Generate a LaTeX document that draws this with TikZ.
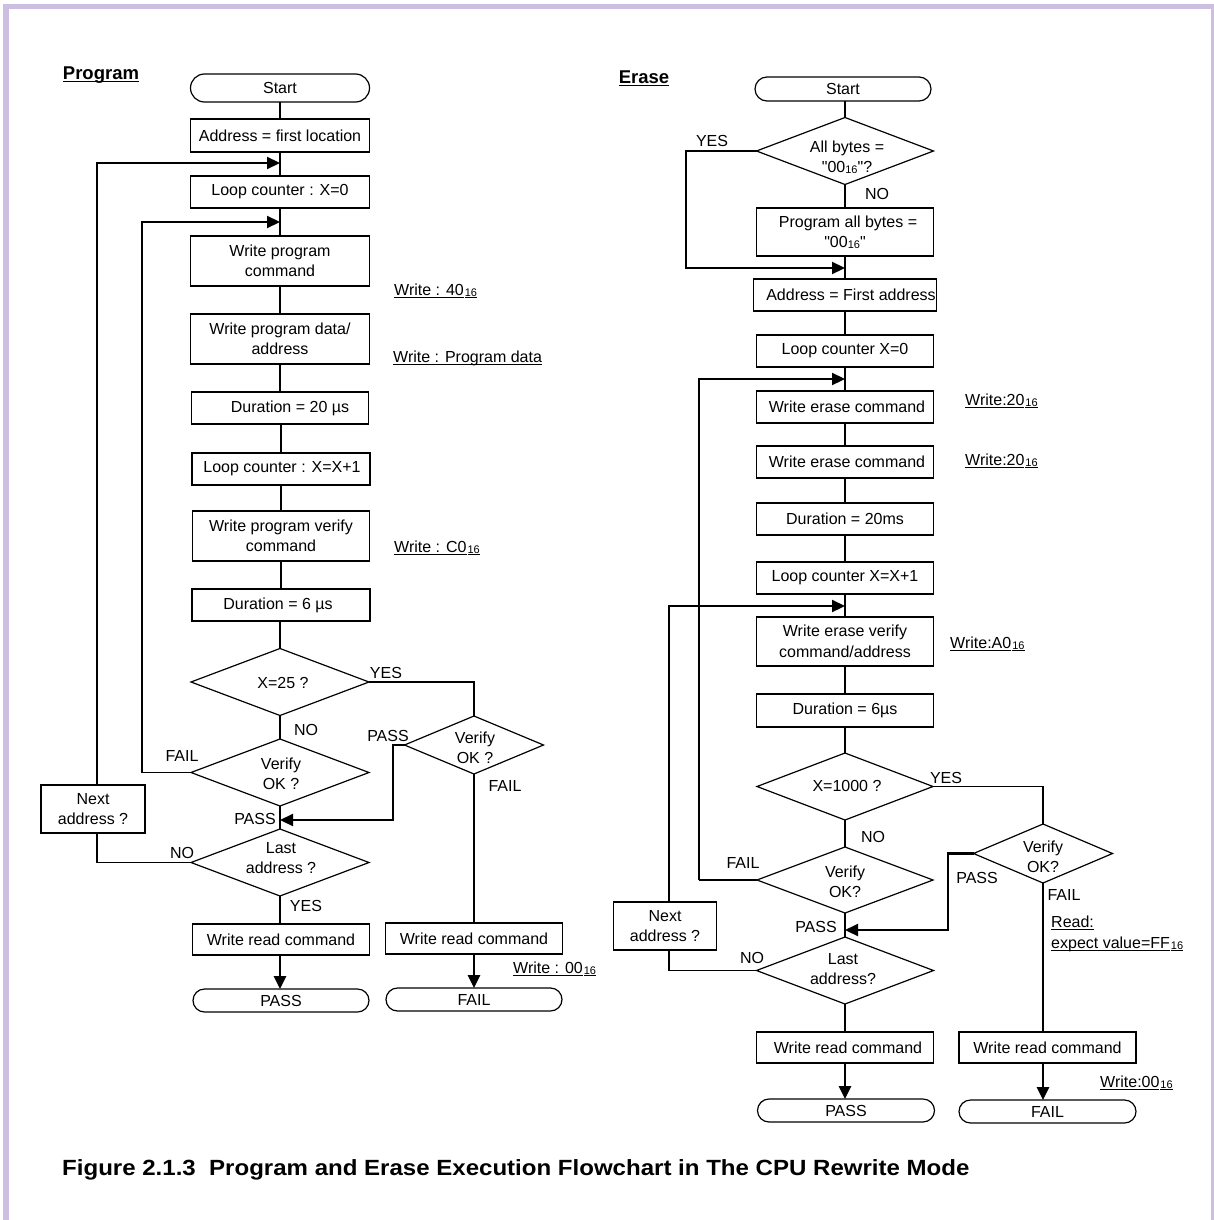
\documentclass[tikz,border=0pt]{standalone}
\usepackage{graphicx}
\usepackage{fontspec}
\setmainfont{Liberation Sans}[Ligatures=TeXOff]
\usetikzlibrary{shapes.geometric,shapes.misc,arrows.meta}

\definecolor{framecol}{RGB}{204,191,225}

% text sizes
\newcommand\boxfont{\fontsize{16}{20.5}\selectfont}
\newcommand\headfont{\bfseries\fontsize{18.5}{22}\selectfont}
\newcommand\capfont{\bfseries\fontsize{22}{26}\selectfont}
% small hexadecimal suffix
\newcommand\hexs{\raisebox{-0.6pt}{\fontsize{11}{11}\selectfont 16}}
% underline at a fixed depth below the baseline
\newsavebox\ulbox
\newcommand\ulx[1]{\sbox\ulbox{#1}\rlap{\raisebox{-2.3pt}{\rule{\wd\ulbox}{0.9pt}}}\usebox\ulbox}

\begin{document}
\begin{tikzpicture}[x=1pt,y=-1pt,
  box/.style={draw, line width=1.2pt, inner sep=1pt, outer sep=0pt, align=center, font=\boxfont},
  term/.style={draw, rounded rectangle, line width=1.2pt, inner sep=0pt, outer sep=0pt, font=\boxfont},
  dia/.style={draw, diamond, line width=1.2pt, inner sep=0pt, outer sep=0pt},
  dtxt/.style={align=center, font=\boxfont, inner sep=0pt},
  lbl/.style={font=\boxfont, inner sep=0pt, text height=11.5pt, text depth=0pt},
  note/.style={lbl, anchor=west},
  conn/.style={line width=1.2pt},
  loopln/.style={line width=2.2pt},
  tip/.style={-{Triangle[length=13pt,width=12pt]}},
  arr/.style={line width=2.6pt, tip},
]
\useasboundingbox (0,0) rectangle (1213,1220);
\fill[white] (0,0) rectangle (1213,1220);
% page frame
\draw[framecol, line width=5.4pt] (6,1230) -- (6,6.7) -- (1213.7,6.7) -- (1213.7,1230);

% ---------------- Program ----------------
\node[font=\headfont, inner sep=0pt] (hprog) at (101,75) {\ulx{Program}};

\node[term, minimum width=179pt, minimum height=28pt] (pstart) at (280,88) {Start};
\node[box, minimum width=179pt, minimum height=33pt] (paddr) at (280,135.5) {Address = first location};
\node[box, minimum width=179pt, minimum height=32pt] (plc0) at (280,192) {Loop counter : X=0};
\node[box, minimum width=179pt, minimum height=50pt] (pwpc) at (280,261) {Write program\\command};
\node[box, minimum width=179pt, minimum height=50pt] (pwpd) at (280,339) {Write program data/\\address};
\node[box, minimum width=177pt, minimum height=32pt] (pd20) at (280,408) {\hspace*{20pt}Duration = 20 µs};
\node[box, minimum width=178pt, minimum height=32pt] (plcx) at (281,469) {\hspace*{2pt}Loop counter : X=X+1};
\node[box, minimum width=177pt, minimum height=50pt] (pwpv) at (281,536) {Write program verify\\command};
\node[box, minimum width=178pt, minimum height=32pt] (pd6) at (281,605) {Duration = 6 µs\hspace*{6pt}};

\node[dia, minimum width=178pt, minimum height=67pt] (px25) at (280,682) {};
\node[dtxt] (px25t) at (283,683) {X=25 ?};
\node[dia, minimum width=178pt, minimum height=67pt] (pv1) at (280,772.5) {};
\node[dtxt] (pv1t) at (281,774) {Verify\\OK ?};
\node[dia, minimum width=139pt, minimum height=58pt] (pv2) at (474,745) {};
\node[dtxt] (pv2t) at (475,748) {Verify\\OK ?};
\node[dia, minimum width=178pt, minimum height=67pt] (plast) at (280,862.5) {};
\node[dtxt] (plastt) at (281,858) {Last\\address ?};

\node[box, minimum width=104pt, minimum height=48pt] (pnext) at (93,809) {Next\\address ?};
\node[box, minimum width=177pt, minimum height=31pt] (pwrL) at (281,939.5) {Write read command};
\node[term, minimum width=176pt, minimum height=23pt] (ppass) at (281,1000.5) {PASS};
\node[box, minimum width=177pt, minimum height=31pt] (pwrR) at (474,938.5) {Write read command};
\node[term, minimum width=176pt, minimum height=23pt] (pfail) at (474,999.5) {FAIL};

% joins and corners of the program loops
\coordinate (pj1) at (280,163);
\coordinate (pj2) at (280,222);
\coordinate (pj3) at (280,820);
\coordinate (pnx) at (97,0);
\coordinate (pfc) at (142,772.5);
\coordinate (ppc) at (393,820);

\draw[conn] (pstart) -- (paddr);
\draw[conn] (paddr) -- (plc0);
\draw[conn] (plc0) -- (pwpc);
\draw[conn] (pwpc) -- (pwpd);
\draw[conn] (pwpd) -- (pd20);
\draw[conn] (pd20.south -| pd6) -- (plcx.north -| pd6);
\draw[conn] (plcx) -- (pwpv);
\draw[conn] (pwpv) -- (pd6);
\draw[conn] (pd6.south -| px25) -- (px25.north);
\draw[conn] (px25) -- (pv1);
\draw[conn] (pv1) -- (plast);
\draw[conn] (plast.south) -- (plast.south |- pwrL.north);
\draw[arr] (pwrL.south -| plast) -- (ppass.north -| plast);
\draw[conn] (px25.east) -| (pv2.north);
\draw[conn] (pv2) -- (pwrR);
\draw[arr] (pwrR) -- (pfail);
\draw[conn] (pv1.west) -- (pfc);
\draw[loopln, tip] (pfc) |- (pj2);
\draw[loopln, tip] (pnext.north -| pnx) |- (pj1);
\draw[conn] (pnext.south -| pnx) |- (plast.west);
\draw[loopln, tip] (pv2.west) -| (ppc) -- (pj3);

\node[lbl] (pyes1) at (386,673) {YES};
\node[lbl] (pno1) at (306,730) {NO};
\node[lbl] (pfail1) at (182,756) {FAIL};
\node[lbl] (ppass1) at (388,736) {PASS};
\node[lbl] (pfail2) at (505,786) {FAIL};
\node[lbl] (ppass2) at (255,819) {PASS};
\node[lbl] (pno2) at (182,853) {NO};
\node[lbl] (pyes2) at (306,906) {YES};

\node[note] (pn1) at (394,290) {\ulx{Write : 40}\hspace{1pt}\ulx{\hexs}};
\node[note] (pn2) at (393,357) {\ulx{Write : Program data}};
\node[note] (pn3) at (394,547) {\ulx{Write : C0}\hspace{1pt}\ulx{\hexs}};
\node[note] (pn4) at (513,968) {\ulx{Write : 00}\hspace{1pt}\ulx{\hexs}};

% ---------------- Erase ----------------
\node[font=\headfont, inner sep=0pt] (herase) at (644,78) {\ulx{Erase}};

\node[term, minimum width=176pt, minimum height=24pt] (estart) at (843,89) {Start};
\node[dia, minimum width=177pt, minimum height=67pt] (eall) at (845,151) {};
\node[dtxt] (eallt) at (847,157) {All bytes =\\"00\hexs"?};
\node[box, minimum width=177pt, minimum height=48pt] (eprog) at (845,232) {\hspace*{6pt}Program all bytes =\\"00\hexs"};
\node[box, minimum width=177pt, minimum height=32pt] (eaddr) at (845,295) {\hspace*{12pt}Address = First address};
\node[box, minimum width=177pt, minimum height=32pt] (elc0) at (845,351) {Loop counter X=0};
\node[box, minimum width=177pt, minimum height=32pt] (ewec1) at (845,407) {\hspace*{4pt}Write erase command};
\node[box, minimum width=177pt, minimum height=32pt] (ewec2) at (845,462) {\hspace*{4pt}Write erase command};
\node[box, minimum width=177pt, minimum height=32pt] (ed20) at (845,519) {Duration = 20ms};
\node[box, minimum width=177pt, minimum height=32pt] (elcx) at (845,578) {Loop counter X=X+1};
\node[box, minimum width=177pt, minimum height=49pt] (ewev) at (845,641.5) {Write erase verify\\command/address};
\node[box, minimum width=177pt, minimum height=33pt] (ed6) at (845,710.5) {Duration = 6µs};

\node[dia, minimum width=176pt, minimum height=67pt] (ex1000) at (845,786.5) {};
\node[dtxt] (ex1000t) at (847,786) {X=1000 ?};
\node[dia, minimum width=176pt, minimum height=66pt] (ev1) at (845,880) {};
\node[dtxt] (ev1t) at (845,882) {Verify\\OK?};
\node[dia, minimum width=139pt, minimum height=59pt] (ev2) at (1043,853.5) {};
\node[dtxt] (ev2t) at (1043,857) {Verify\\OK?};
\node[dia, minimum width=177pt, minimum height=67pt] (elast) at (845,970.5) {};
\node[dtxt] (elastt) at (843,969) {Last\\address?};

\node[box, minimum width=103pt, minimum height=48pt] (enext) at (665,926) {Next\\address ?};
\node[box, minimum width=177pt, minimum height=31pt] (ewrL) at (845,1047.5) {\hspace*{6pt}Write read command};
\node[term, minimum width=177pt, minimum height=23pt] (epass) at (846,1110.5) {PASS};
\node[box, minimum width=177pt, minimum height=31pt] (ewrR) at (1047.5,1047.5) {Write read command};
\node[term, minimum width=177pt, minimum height=23pt] (efail) at (1047.5,1111.5) {FAIL};

% joins and corners of the erase loops
\coordinate (ej1) at (845,268);
\coordinate (eyc) at (686,268);
\coordinate (ej2) at (845,379);
\coordinate (efc) at (699,880);
\coordinate (ej3) at (845,606);
\coordinate (enx) at (669,0);
\coordinate (ej4) at (845,930);
\coordinate (epc) at (948,930);

\draw[conn] (estart.south -| eall) -- (eall.north);
\draw[conn] (eall) -- (eprog);
\draw[conn] (eprog) -- (eaddr);
\draw[conn] (eaddr) -- (elc0);
\draw[conn] (elc0) -- (ewec1);
\draw[conn] (ewec1) -- (ewec2);
\draw[conn] (ewec2) -- (ed20);
\draw[conn] (ed20) -- (elcx);
\draw[conn] (elcx) -- (ewev);
\draw[conn] (ewev) -- (ed6);
\draw[conn] (ed6) -- (ex1000);
\draw[conn] (ex1000) -- (ev1);
\draw[conn] (ev1) -- (elast);
\draw[conn] (elast) -- (ewrL);
\draw[arr] (ewrL) -- (epass.north -| ewrL);
\draw[loopln, tip] (eall.west) -| (eyc) -- (ej1);
\draw[conn] (ev1.west) -- (efc);
\draw[loopln, tip] (efc) |- (ej2);
\draw[loopln, tip] (enext.north -| enx) |- (ej3);
\draw[conn] (enext.south -| enx) |- (elast.west);
\draw[conn] (ex1000.east) -| (ev2.north);
\draw[loopln, tip] (ev2.west) -| (epc) -- (ej4);
\draw[conn] (ev2.south) -- (ev2.south |- ewrR.north);
\draw[arr] (ewrR.south -| ev2.south) -- (efail.north -| ev2.south);

\node[lbl] (eyes1) at (712,141) {YES};
\node[lbl] (eno1) at (877,194) {NO};
\node[lbl] (eyes2) at (946,778) {YES};
\node[lbl] (eno2) at (873,837) {NO};
\node[lbl] (efail1) at (743,863) {FAIL};
\node[lbl] (epass1) at (977,878) {PASS};
\node[lbl] (efail2) at (1064,895) {FAIL};
\node[lbl] (epass2) at (816,927) {PASS};
\node[lbl] (eno3) at (752,958) {NO};

\node[note] (en1) at (965,400) {\ulx{Write:20}\hspace{1pt}\ulx{\hexs}};
\node[note] (en2) at (965,460) {\ulx{Write:20}\hspace{1pt}\ulx{\hexs}};
\node[note] (en3) at (950,643) {\ulx{Write:A0}\hspace{1pt}\ulx{\hexs}};
\node[note] (en4) at (1051,922) {\ulx{Read:}};
\node[note] (en5) at (1051,943) {\ulx{expect value=FF}\hspace{1pt}\ulx{\hexs}};
\node[note] (en6) at (1100,1082) {\ulx{Write:00}\hspace{1pt}\ulx{\hexs}};

% ---------------- caption ----------------
\node[anchor=west, font=\capfont, inner sep=0pt, text height=15.5pt, text depth=0pt] (cap) at (62,1168)
  {\scalebox{1.093}[1]{Figure 2.1.3\ \ Program and Erase Execution Flowchart in The CPU Rewrite Mode}};
\end{tikzpicture}
\end{document}
